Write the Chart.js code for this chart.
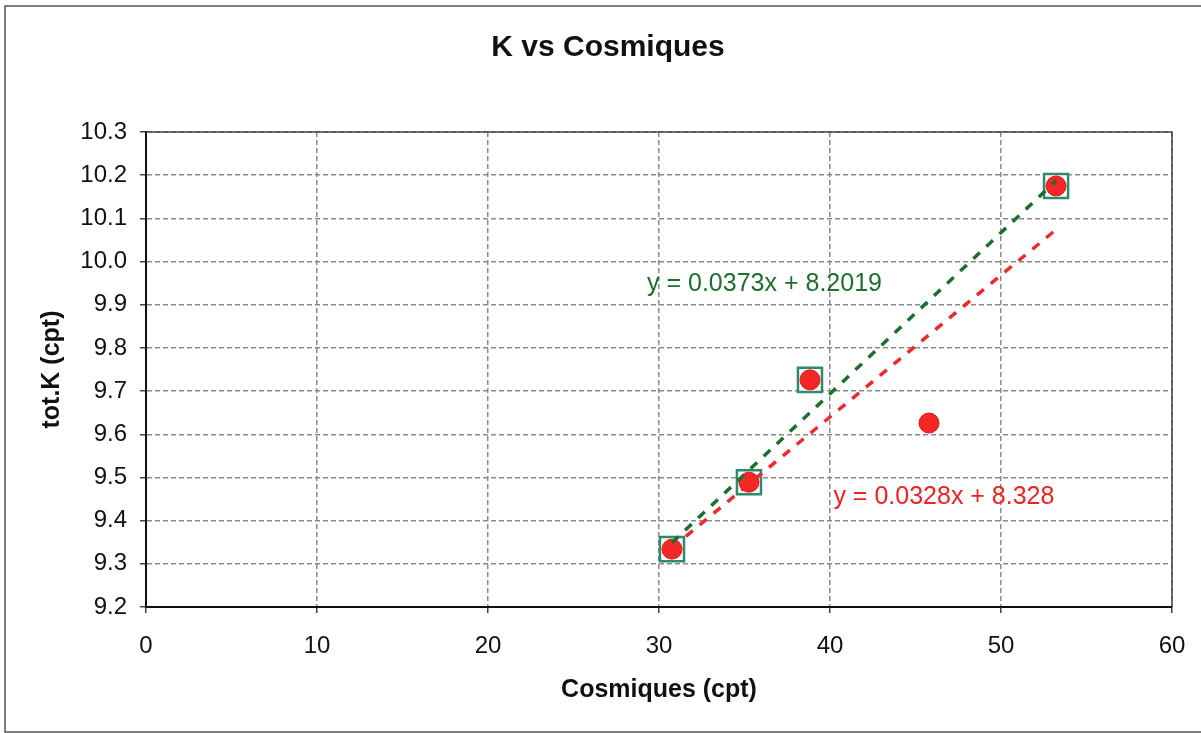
<!DOCTYPE html>
<html>
<head>
<meta charset="utf-8">
<script src="https://cdn.jsdelivr.net/npm/chart.js@4/dist/chart.umd.min.js"></script>
<style>
  html, body { margin: 0; padding: 0; background: #fff; }
  #wrap { width: 1201px; height: 733px; position: relative; }
</style>
</head>
<body>
<div id="wrap"><canvas id="chartK"></canvas></div>
<script>
// --- Données ---
const cosmiques = [30.76, 35.26, 38.83, 45.79, 53.22];
const totK = [9.334, 9.489, 9.726, 9.626, 10.175];
// points retenus pour l'ajustement vert (carrés)
const cosmiquesSel = [30.76, 35.26, 38.83, 53.22];
const totKSel = [9.334, 9.489, 9.726, 10.175];
// extrémités des droites de tendance
const trendVertX = [30.76, 53.22];
const trendVertY = [9.349, 10.187];
const trendRougeX = [30.76, 53.22];
const trendRougeY = [9.337, 10.074];
const xTicks = [0, 10, 20, 30, 40, 50, 60];
const yTicks = [9.2, 9.3, 9.4, 9.5, 9.6, 9.7, 9.8, 9.9, 10.0, 10.1, 10.2, 10.3];
const eqVert = "y = 0.0373x + 8.2019";
const eqRouge = "y = 0.0328x + 8.328";

const FONT = "'Liberation Sans', Arial, sans-serif";
const toPts = (xs, ys) => xs.map((x, i) => ({ x: x, y: ys[i] }));

// --- Cadre + équations ---
const decorPlugin = {
    id: "decor",
    beforeDraw(chart) {
        const ctx = chart.ctx;
        ctx.save();
        ctx.fillStyle = "#fff";
        ctx.fillRect(0, 0, chart.width, chart.height);
        ctx.strokeStyle = "#555";
        ctx.lineWidth = 1.5;
        ctx.strokeRect(5, 6, 1300, 726);
        ctx.restore();
    },
    afterDraw(chart) {
        const ctx = chart.ctx;
        const a = chart.chartArea;
        const sx = chart.scales.x, sy = chart.scales.y;
        ctx.save();
        // bord haut et droit de la zone de tracé
        ctx.strokeStyle = "#444";
        ctx.lineWidth = 1.5;
        ctx.beginPath();
        ctx.moveTo(a.left, a.top);
        ctx.lineTo(a.right, a.top);
        ctx.lineTo(a.right, a.bottom);
        ctx.stroke();
        ctx.font = "25px " + FONT;
        ctx.textBaseline = "middle";
        ctx.textAlign = "left";
        ctx.fillStyle = "#1e6e32";
        ctx.fillText(eqVert, sx.getPixelForValue(29.3), sy.getPixelForValue(9.948));
        ctx.fillStyle = "#ee2222";
        ctx.fillText(eqRouge, sx.getPixelForValue(40.2), sy.getPixelForValue(9.455));
        ctx.restore();
    }
};

const gridDash = [5, 3];

new Chart(document.getElementById("chartK"), {
    type: "scatter",
    data: {
        datasets: [
            {
                label: "tendance sélection",
                type: "line",
                data: toPts(trendVertX, trendVertY),
                borderColor: "#1e6e32",
                borderWidth: 3.5,
                borderDash: [9, 9],
                pointRadius: 0,
                fill: false,
                order: 0
            },
            {
                label: "tendance tous",
                type: "line",
                data: toPts(trendRougeX, trendRougeY),
                borderColor: "#ee2a2a",
                borderWidth: 3.5,
                borderDash: [9, 9],
                pointRadius: 0,
                fill: false,
                order: 0
            },
            {
                label: "tot.K",
                data: toPts(cosmiques, totK),
                pointStyle: "circle",
                pointRadius: 10,
                pointHoverRadius: 10,
                backgroundColor: "#f42626",
                borderColor: "#e01a1a",
                borderWidth: 1,
                order: 1
            },
            {
                label: "sélection",
                data: toPts(cosmiquesSel, totKSel),
                pointStyle: "rect",
                pointRadius: 17,
                pointHoverRadius: 17,
                backgroundColor: "#ffffff",
                borderColor: "#2e8a6a",
                borderWidth: 2.5,
                order: 2
            }
        ]
    },
    options: {
        responsive: true,
        maintainAspectRatio: false,
        animation: false,
        layout: { padding: { left: 44, right: 29, top: 0, bottom: 0 } },
        plugins: {
            legend: { display: false },
            tooltip: { enabled: false },
            title: {
                display: true,
                text: "K vs Cosmiques",
                color: "#111",
                font: { family: FONT, size: 30, weight: "bold" },
                padding: { top: 30, bottom: 66 }
            }
        },
        scales: {
            x: {
                type: "linear",
                min: 0,
                max: 60,
                afterBuildTicks: (s) => { s.ticks = xTicks.map(v => ({ value: v })); },
                afterFit: (s) => { s.height = 126; },
                ticks: {
                    color: "#111",
                    font: { family: FONT, size: 24, lineHeight: 1.65 },
                    padding: 14
                },
                grid: {
                    color: "#8a8a8a",
                    lineWidth: 1.5,
                    tickLength: 6,
                    tickColor: "#444",
                    tickBorderDash: []
                },
                border: { color: "#111", width: 2, dash: gridDash },
                title: {
                    display: true,
                    text: "Cosmiques (cpt)",
                    color: "#111",
                    font: { family: FONT, size: 25, weight: "bold" },
                    padding: { top: 0, bottom: 28 }
                }
            },
            y: {
                type: "linear",
                min: 9.2,
                max: 10.3,
                afterBuildTicks: (s) => { s.ticks = yTicks.map(v => ({ value: v })); },
                afterFit: (s) => { s.width = 102; },
                ticks: {
                    color: "#111",
                    font: { family: FONT, size: 24 },
                    padding: 13,
                    callback: (v) => Number(v).toFixed(1)
                },
                grid: {
                    color: "#8a8a8a",
                    lineWidth: 1.5,
                    tickLength: 6,
                    tickColor: "#444",
                    tickBorderDash: []
                },
                border: { color: "#111", width: 2, dash: gridDash },
                title: {
                    display: true,
                    text: "tot.K (cpt)",
                    color: "#111",
                    font: { family: FONT, size: 25, weight: "bold" },
                    padding: { top: -7, bottom: 0 }
                }
            }
        }
    },
    plugins: [decorPlugin]
});
</script>
</body>
</html>
